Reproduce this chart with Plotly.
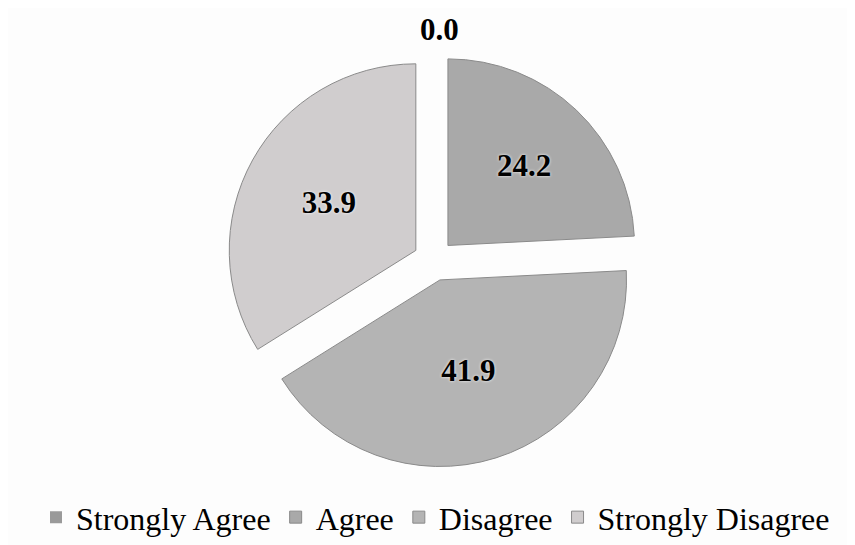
import plotly.graph_objects as go

labels = ['Strongly Agree', 'Agree', 'Disagree', 'Strongly Disagree']
values = [0.0, 24.2, 41.9, 33.9]
colors = ['#9a9a9a', '#a9a9a9', '#b4b4b4', '#d0cdce']

serif = 'Liberation Serif'
label_font = dict(family=serif, size=31, color='black', weight='bold',
                  shadow='0px 0px 3px white')

fig = go.Figure()
fig.add_trace(go.Pie(
    labels=labels,
    values=values,
    sort=False,
    direction='clockwise',
    rotation=0,
    pull=[0.11, 0.11, 0.11, 0.11],
    marker=dict(colors=colors,
                line=dict(color='#8a8a8a', width=[0, 1, 1, 1])),
    texttemplate='%{value:.1f}',
    textposition=['none', 'inside', 'inside', 'inside'],
    insidetextorientation='horizontal',
    textfont=label_font,
    insidetextfont=label_font,
    hoverinfo='label+value',
    domain=dict(x=[0.243, 0.753], y=[0.157, 0.917]),
))

# zero-size slice label sits above the pie
fig.add_annotation(
    x=0.505, y=0.96, xref='paper', yref='paper', yanchor='middle',
    text=f'{values[0]:.1f}', showarrow=False,
    font=label_font,
)

fig.update_layout(
    width=855, height=545,
    margin=dict(l=0, r=0, t=0, b=0),
    paper_bgcolor='#fdfdfd',
    plot_bgcolor='#fdfdfd',
    showlegend=True,
    legend=dict(
        orientation='h', x=0.5, xanchor='center', y=0.015, yanchor='bottom',
        font=dict(family=serif, size=32, color='black'),
        itemwidth=30,
        traceorder='normal',
    ),
)

fig.write_html('out.html')
